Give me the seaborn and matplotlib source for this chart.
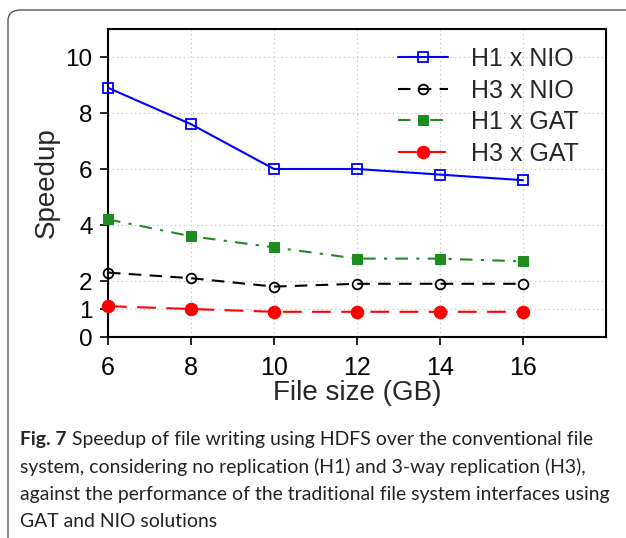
import matplotlib
matplotlib.use("Agg")
import matplotlib.pyplot as plt
from matplotlib.patches import FancyBboxPatch
import seaborn as sns
import pandas as pd

file_sizes = [6, 8, 10, 12, 14, 16]
h1_nio = [8.9, 7.6, 6.0, 6.0, 5.8, 5.6]
h3_nio = [2.3, 2.1, 1.8, 1.9, 1.9, 1.9]
h1_gat = [4.2, 3.6, 3.2, 2.8, 2.8, 2.7]
h3_gat = [1.1, 1.0, 0.9, 0.9, 0.9, 0.9]
series_names = ["H1 x NIO", "H3 x NIO", "H1 x GAT", "H3 x GAT"]
x_ticks = [6, 8, 10, 12, 14, 16]
y_ticks = [0, 1, 2, 4, 6, 8, 10]

sns.set_theme(style="white")
plt.rcParams['font.family'] = ['Liberation Sans', 'DejaVu Sans']

fig = plt.figure(figsize=(6.26, 5.38), dpi=100)

# rounded frame
frame = FancyBboxPatch((8/626, -0.2), 1.2, (538-10)/538 + 0.2,
                       boxstyle="round,pad=0,rounding_size=0.02",
                       transform=fig.transFigure, facecolor="white",
                       edgecolor="#555555", linewidth=1.0, clip_on=False, zorder=0)
fig.patches.append(frame)

ax = fig.add_axes([108/626, (538-337)/538, (606-108)/626, (337-29)/538])
ax.set_zorder(2)

styles = [
    dict(color="#0000ff", linestyle="-", marker="s", markerfacecolor="none",
         markeredgecolor="#0000ff", markersize=7, markeredgewidth=1.3),
    dict(color="black", linestyle=(0, (6, 4)), marker="o", markerfacecolor="none",
         markeredgecolor="black", markersize=7, markeredgewidth=1.3),
    dict(color="#1e8c1e", linestyle=(0, (6, 4, 1.5, 4)), marker="s", markerfacecolor="#1e8c1e",
         markeredgecolor="#1e8c1e", markersize=7),
    dict(color="#ff0000", linestyle=(0, (9, 5)), marker="o", markerfacecolor="#ff0000",
         markeredgecolor="#ff0000", markersize=9),
]

for name, vals, st in zip(series_names, [h1_nio, h3_nio, h1_gat, h3_gat], styles):
    df = pd.DataFrame({"File size (GB)": file_sizes, "Speedup": vals})
    sns.lineplot(data=df, x="File size (GB)", y="Speedup", ax=ax, label=name,
                 linewidth=1.5, clip_on=False, zorder=3, **st)

ax.set_xlim(6, 18)
ax.set_ylim(0, 11)
ax.set_xticks(x_ticks)
ax.set_yticks(y_ticks)
ax.tick_params(axis="both", direction="out", length=6, width=1.2,
               bottom=True, left=True, colors="black")
ax.tick_params(axis="x", pad=8, labelsize=18)
ax.tick_params(axis="y", pad=5, labelsize=17.5)
ax.grid(True, linestyle=(0, (1, 3)), color="#bbbbbb", linewidth=0.8)
for sp in ax.spines.values():
    sp.set_color("black")
    sp.set_linewidth(1.5)
ax.set_xlabel("File size (GB)", fontsize=20, labelpad=0)
ax.set_ylabel("Speedup", fontsize=20, labelpad=4)

leg = ax.legend(loc="upper right", frameon=False, fontsize=18, handlelength=2.0,
                labelspacing=0.3, borderaxespad=0.2, handletextpad=0.9,
                bbox_to_anchor=(0.975, 0.99))

cap_lines = [
    "Speedup of file writing using HDFS over the conventional file",
    "system, considering no replication (H1) and 3-way replication (H3),",
    "against the performance of the traditional file system interfaces using",
    "GAT and NIO solutions",
]
cap_font = ['Lato', 'DejaVu Sans']
renderer = fig.canvas.get_renderer()
probe = fig.text(0, 0, cap_lines[2], fontsize=14, family=cap_font)
w = probe.get_window_extent(renderer).width
probe.remove()
cap_size = 14 * 592 / w

y0 = 440
for i, line in enumerate(cap_lines):
    yy = 1 - (y0 + i * 27.3) / 538
    if i == 0:
        t = fig.text(20/626, yy, "Fig. 7", fontsize=cap_size, fontweight="bold",
                     family=cap_font, va="center", ha="left")
        bb = t.get_window_extent(renderer)
        fig.text((bb.x1 + 5) / 626, yy, line, fontsize=cap_size, family=cap_font,
                 va="center", ha="left", color="#222222")
    else:
        fig.text(20/626, yy, line, fontsize=cap_size, family=cap_font, va="center",
                 ha="left", color="#222222")

fig.savefig("out.png", dpi=100)
